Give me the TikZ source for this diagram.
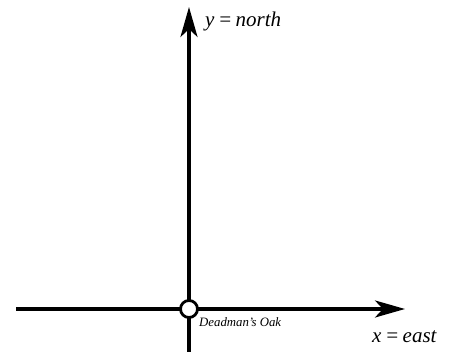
\documentclass[tikz,border=0pt]{standalone}
\usepackage{fontspec}
\setmainfont{Liberation Serif}
\usetikzlibrary{arrows.meta,positioning}

\tikzset{
  axis/.style={line width=3.3pt, -{Stealth[length=30pt,width=17pt,inset=8pt]}},
  oakmark/.style={circle, draw, fill=white, line width=2.8pt, minimum size=17pt, inner sep=0pt},
  axislabel/.style={font=\itshape\fontsize{21}{21}\selectfont, inner sep=0pt}
}

\begin{document}
\begin{tikzpicture}[x=1pt, y=1pt, >=Stealth]
\useasboundingbox (0,0) rectangle (450,352);

  % Define coordinates for nodes
\coordinate (south) at (189,0); \coordinate (north) at (189,345); \coordinate (west) at (16,43); \coordinate (east) at (405,43);

  % Draw axes
\draw[axis] (west) -- (east); \draw[axis] (south) -- (north);

\node[oakmark] (oak) at (189,43) {};
\node[anchor=base west, inner sep=0pt, font=\itshape\fontsize{12.8}{12.8}\selectfont] (oaklabel) at (199,25) {Deadman's Oak};
\node[axislabel, anchor=base west] (ylabel) at (205,325) {y\,=\,north};
\node[axislabel, anchor=base west] (xlabel) at (372,9) {x\,=\,east};

\end{tikzpicture}
\end{document}
